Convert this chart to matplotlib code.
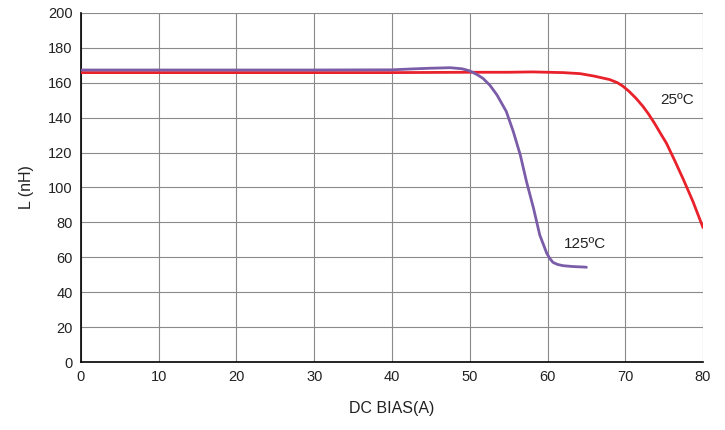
import matplotlib.pyplot as plt

# Inductance vs DC bias
bias_25 = [0, 10, 20, 30, 40, 50, 55, 58, 60, 62, 64.2, 66, 68.0, 69.0, 69.7, 70.5, 71.4, 72.3, 73.0, 73.8, 74.5, 75.3, 76.4, 77.5, 78.7, 80]
ind_25 = [165.8, 165.8, 165.8, 165.8, 165.8, 166.0, 166.0, 166.2, 166.0, 165.8, 165.2, 163.8, 161.8, 160.0, 158.0, 155.0, 151.0, 146.3, 142.0, 136.5, 131.2, 125.3, 115.0, 104.3, 92.0, 77.0]

bias_125 = [0, 10, 20, 30, 40, 42.5, 44.9, 47.5, 49.0, 50.0, 51.0, 51.7, 52.6, 53.5, 54.7, 55.6, 56.5, 57.3, 58.2, 59.0, 59.5, 59.9, 60.3, 60.7, 61.3, 62.0, 63.3, 64.8, 65.0]
ind_125 = [167.3, 167.3, 167.3, 167.3, 167.4, 167.9, 168.3, 168.6, 168.0, 166.8, 164.5, 162.5, 158.5, 153.0, 143.5, 132.0, 118.6, 103.3, 88.1, 72.8, 67.0, 62.3, 59.3, 57.1, 55.9, 55.2, 54.7, 54.4, 54.3]

x_ticks = list(range(0, 81, 10))
y_ticks = list(range(0, 201, 20))

plt.rcParams['font.family'] = ['Liberation Sans', 'DejaVu Sans']

fig = plt.figure(figsize=(7.25, 4.3), dpi=100)
ax = fig.add_axes([0.1117, 0.158, 0.858, 0.812])

ax.plot(bias_25, ind_25, color='#e8212b', lw=2.0, zorder=3,
        solid_joinstyle='round', solid_capstyle='round')
ax.plot(bias_125, ind_125, color='#7a5ca8', lw=2.0, zorder=3,
        solid_joinstyle='round', solid_capstyle='round')

ax.text(76.7, 150, '25ºC', fontsize=11, ha='center', va='center', color='#222222')
ax.text(64.8, 67.5, '125ºC', fontsize=11, ha='center', va='center', color='#222222')

ax.set_xlim(0, 80)
ax.set_ylim(0, 200)
ax.set_xticks(x_ticks)
ax.set_yticks(y_ticks)
ax.tick_params(length=0, labelsize=10.5, pad=6, colors='#222222')
ax.grid(True, color='#8a8a8a', lw=0.8)
ax.set_axisbelow(True)

for side in ['top', 'right']:
    ax.spines[side].set_visible(False)
for side in ['left', 'bottom']:
    ax.spines[side].set_color('black')
    ax.spines[side].set_linewidth(1.2)

ax.set_xlabel('DC BIAS(A)', fontsize=11.5, labelpad=12, color='#222222')
ax.set_ylabel('L (nH)', fontsize=11.5, labelpad=10, color='#222222')

fig.savefig('out.png', dpi=100)
